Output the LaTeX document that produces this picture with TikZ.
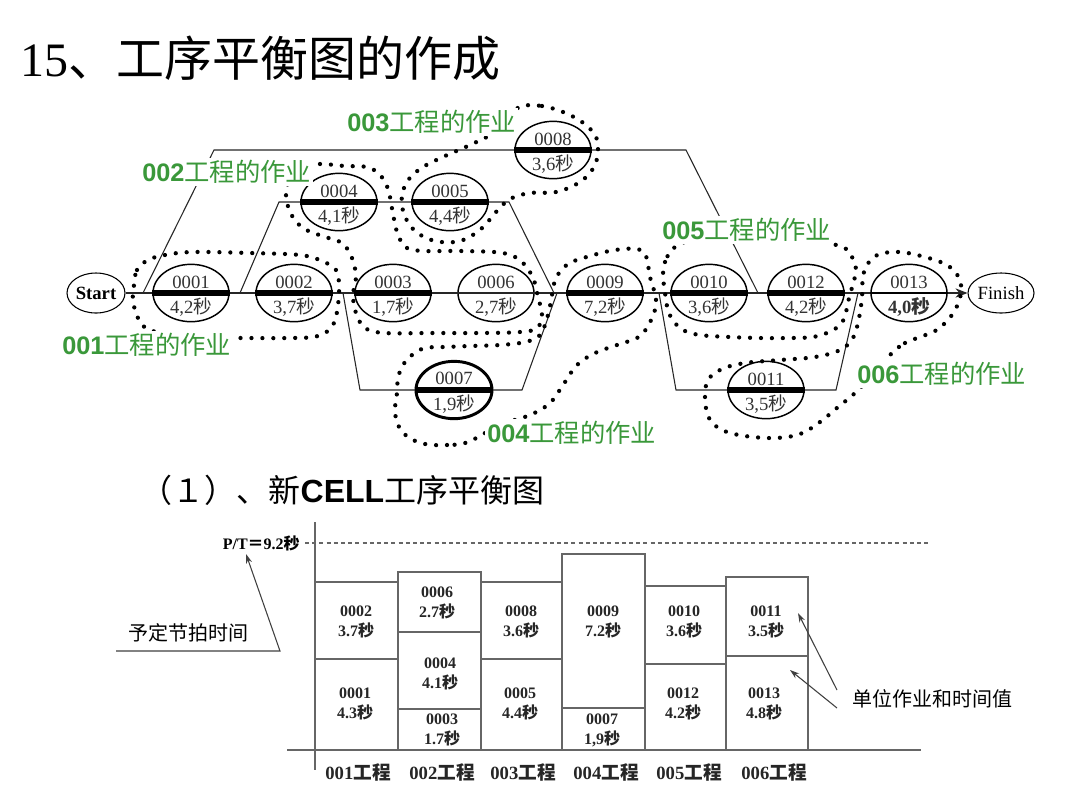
\documentclass[tikz,border=0pt]{standalone}
\usepackage{fontspec}
\setmainfont{Liberation Serif}
\setsansfont{Liberation Sans}
\newfontfamily\cjk{Noto Sans CJK SC}
\usepackage{tikz}
\usetikzlibrary{arrows.meta,shapes.geometric}
\definecolor{labelgreen}{RGB}{58,152,58}
\newcommand\miao{{\cjk 秒}}
\newcommand\fsz[1]{\fontsize{#1}{#1}\selectfont}

\begin{document}
\begin{tikzpicture}[
  x=0.75pt, y=-0.75pt,
  flow/.style={draw=black!85, line width=0.8pt},
  tasktxt/.style={inner sep=0pt, font=\fsz{14}, text=black!80},
  task/.style 2 args={ellipse, draw, line width=1.1pt, minimum width=57pt, minimum height=43pt, inner sep=0pt,
    label={[tasktxt, label distance=-19pt]90:#1},
    label={[tasktxt, label distance=-19pt]270:{#2}}},
  term/.style={ellipse, draw, line width=0.8pt, minimum width=43.5pt, minimum height=30pt, inner sep=0pt, font=\fsz{14}},
  bar/.style={line width=3.8pt},
  dotline/.style={line width=3.2pt, line cap=round, dash pattern=on 0pt off 8.2pt},
  grp/.style={fill=white, inner sep=1.5pt, anchor=west, text=labelgreen, font=\fsz{19}},
  axis/.style={draw=black!60, line width=0.9pt},
  cellbox/.style={draw=black!60, line width=0.9pt},
  cell/.style={align=center, inner sep=0pt, font=\fontsize{12}{15}\selectfont\bfseries, text=black!85},
  xlab/.style={inner sep=0pt, font=\fsz{14}\bfseries, text=black!85},
  ptr/.style={draw=black!75, line width=0.8pt, -{Stealth[length=7pt, width=4.5pt]}}
]
\fill[white] (0,0) rectangle (1080,808);
\useasboundingbox (0,0) rectangle (1080,808);

% titles
\node[anchor=west, font=\fsz{36}] (title) at (16,58) {15{\cjk 、工序平衡图的作成}};
\node[anchor=west, font=\fsz{24}] (subtitle) at (136,490) {{\cjk （１）、新}{\sffamily\bfseries CELL}{\cjk 工序平衡图}};

% network
\node[term, font=\fsz{14}\bfseries] (start) at (96,293) {Start};
\node[term] (finish) at (1001,293) {Finish};

\node[task={0001}{4,2\miao}] (t0001) at (191,293) {};
\node[task={0002}{3,7\miao}] (t0002) at (294,293) {};
\node[task={0003}{1,7\miao}] (t0003) at (393,293) {};
\node[task={0006}{2,7\miao}] (t0006) at (496,293) {};
\node[task={0009}{7,2\miao}] (t0009) at (605,293) {};
\node[task={0010}{3,6\miao}] (t0010) at (709,293) {};
\node[task={0012}{4,2\miao}] (t0012) at (806,293) {};
\node[task={0013}{\bfseries 4,0\miao}] (t0013) at (909,293) {};
\node[task={0004}{4,1\miao}] (t0004) at (339,202) {};
\node[task={0005}{4,4\miao}] (t0005) at (450,202) {};
\node[task={0008}{3,6\miao}] (t0008) at (553,150) {};
\node[task={0007}{1,9\miao}, line width=2.2pt] (t0007) at (454,390) {};
\node[task={0011}{3,5\miao}] (t0011) at (766,390) {};

\coordinate (a1) at (143,293); \coordinate (a2) at (214,150);
\coordinate (a3) at (686,150); \coordinate (a4) at (758,293);
\coordinate (b1) at (240,293); \coordinate (b2) at (279,202);
\coordinate (b3) at (509,202); \coordinate (b4) at (554,293);
\coordinate (c1) at (343,293); \coordinate (c2) at (360,390);
\coordinate (c3) at (522,390); \coordinate (c4) at (557,293);
\coordinate (d1) at (659,293); \coordinate (d2) at (676,390);
\coordinate (d3) at (836,390); \coordinate (d4) at (858,293);

\draw[flow, -{Stealth[length=9pt, width=7pt]}] (start) -- (finish);
\draw[flow] (a1) -- (a2) -- (a3) -- (a4);
\draw[flow] (b1) -- (b2) -- (b3) -- (b4);
\draw[flow] (c1) -- (c2) -- (c3) -- (c4);
\draw[flow] (d1) -- (d2) -- (d3) -- (d4);

\foreach \t in {0001,0002,0003,0004,0005,0007,0008,0009,0010,0011,0012}
  \draw[bar] (t\t.west) -- (t\t.east);
\draw[line width=1.4pt] (t0013.west) -- (t0013.east);

% dotted groups
\draw[dotline] plot[smooth cycle, tension=0.6] coordinates {(134,285) (137,270) (148,260) (165,255) (193,252) (250,253) (300,255) (322,261) (336,270) (339,285) (338,305) (333,325) (318,336) (290,338) (240,338) (190,338) (150,330) (138,318) (133,300)};
\draw[dotline] plot[smooth cycle, tension=0.6] coordinates {(300,167) (320,164) (345,166) (367,167) (379,174) (386,184) (390,197) (393,214) (398,235) (407,248) (425,251) (460,251) (503,253) (522,262) (533,278) (538,297) (542,315) (537,328) (520,332) (480,333) (430,333) (385,333) (365,328) (356,313) (353,295) (356,277) (352,258) (342,243) (322,236) (303,228) (291,214) (286,195) (290,178)};
\draw[dotline] plot[smooth cycle, tension=0.6] coordinates {(522,106) (542,106) (563,112) (582,122) (595,135) (598,150) (594,167) (580,182) (556,192) (530,193) (510,199) (496,212) (481,229) (460,241) (435,241) (415,231) (404,214) (402,195) (409,179) (423,167) (445,156) (470,145) (495,132) (510,115)};
\draw[dotline] plot[smooth cycle, tension=0.6] coordinates {(468,442) (447,445) (425,444) (408,437) (398,425) (395,410) (397,393) (398,378) (403,365) (412,355) (425,348) (445,347) (470,346) (500,345) (525,342) (540,335) (548,315) (552,295) (556,278) (568,264) (590,256) (615,250) (637,249) (646,256) (650,277) (656,300) (652,318) (640,336) (617,345) (595,353) (577,365) (563,385) (550,403) (530,415) (500,425)};
\draw[dotline] plot[smooth cycle, tension=0.6] coordinates {(672,250) (665,262) (663,276) (665,292) (667,306) (672,319) (683,330) (700,335) (730,337) (760,338) (790,338) (813,337) (829,332) (841,324) (846,312) (849,298) (853,284) (856,270) (852,257) (842,247) (800,238) (720,238) (685,242)};
\draw[dotline] plot[smooth cycle, tension=0.6] coordinates {(892,353) (905,343) (920,337) (935,331) (947,321) (955,310) (960,298) (961,285) (956,273) (945,264) (925,257) (900,252) (880,254) (869,262) (863,276) (862,297) (859,318) (853,338) (840,350) (815,357) (780,360) (745,363) (722,369) (708,380) (705,398) (709,418) (722,430) (745,436) (775,438) (800,434) (820,422) (838,407) (855,393) (875,372)};

% group labels
\node[grp] (g001) at (60,345) {{\sffamily\bfseries 001}{\cjk 工程的作业}};
\node[grp] (g002) at (140,172) {{\sffamily\bfseries 002}{\cjk 工程的作业}};
\node[grp] (g003) at (345,122) {{\sffamily\bfseries 003}{\cjk 工程的作业}};
\node[grp] (g004) at (485,433) {{\sffamily\bfseries 004}{\cjk 工程的作业}};
\node[grp] (g005) at (660,230) {{\sffamily\bfseries 005}{\cjk 工程的作业}};
\node[grp] (g006) at (855,374) {{\sffamily\bfseries 006}{\cjk 工程的作业}};

% balance chart
\draw[axis] (315,522) -- (315,770);
\draw[axis] (287,750) -- (921,750);
\draw[draw=black!60, line width=0.8pt, dash pattern=on 3pt off 2.4pt] (305,543) -- (930,543);

\draw[cellbox] (315,750) rectangle (398,659);
\draw[cellbox] (315,659) rectangle (398,582);
\draw[cellbox] (398,750) rectangle (481,709);
\draw[cellbox] (398,709) rectangle (481,632);
\draw[cellbox] (398,632) rectangle (481,572);
\draw[cellbox] (481,750) rectangle (562,659);
\draw[cellbox] (481,659) rectangle (562,582);
\draw[cellbox] (562,750) rectangle (645,708);
\draw[cellbox] (562,708) rectangle (645,554);
\draw[cellbox] (645,750) rectangle (726,664);
\draw[cellbox] (645,664) rectangle (726,586);
\draw[cellbox] (726,750) rectangle (808,656);
\draw[cellbox] (726,656) rectangle (808,577);

\node[cell] (c0001) at (355,704) {0001\\4.3\miao};
\node[cell] (c0002) at (356,622) {0002\\3.7\miao};
\node[cell] (c0003) at (442,730) {0003\\1.7\miao};
\node[cell] (c0004) at (440,674) {0004\\4.1\miao};
\node[cell] (c0006) at (437,603) {0006\\2.7\miao};
\node[cell] (c0005) at (520,704) {0005\\4.4\miao};
\node[cell] (c0008) at (521,622) {0008\\3.6\miao};
\node[cell] (c0007) at (602,730) {0007\\1,9\miao};
\node[cell] (c0009) at (603,622) {0009\\7.2\miao};
\node[cell] (c0012) at (683,704) {0012\\4.2\miao};
\node[cell] (c0010) at (684,622) {0010\\3.6\miao};
\node[cell] (c0013) at (764,704) {0013\\4.8\miao};
\node[cell] (c0011) at (766,622) {0011\\3.5\miao};

\node[xlab] (x001) at (358,772) {001{\cjk 工程}};
\node[xlab] (x002) at (442,772) {002{\cjk 工程}};
\node[xlab] (x003) at (523,772) {003{\cjk 工程}};
\node[xlab] (x004) at (606,772) {004{\cjk 工程}};
\node[xlab] (x005) at (689,772) {005{\cjk 工程}};
\node[xlab] (x006) at (774,772) {006{\cjk 工程}};

\node[anchor=east, inner sep=0pt, font=\fsz{12}\bfseries] (pt) at (300,543) {P/T{\cjk ＝}9.2\miao};
\node[inner sep=0pt, font=\fsz{15}] (pace) at (188,633) {{\cjk 予定节拍时间}};
\coordinate (u1) at (116,651); \coordinate (u2) at (280,651); \coordinate (ptTip) at (246,554);
\draw[ptr] (u1) -- (u2) -- (ptTip);

\node[inner sep=0pt, font=\fsz{15}] (unit) at (932,699) {{\cjk 单位作业和时间值}};
\coordinate (v1) at (837,690); \coordinate (v2) at (837,708);
\coordinate (w1) at (798,613); \coordinate (w2) at (790,670);
\draw[ptr] (v1) -- (w1);
\draw[ptr] (v2) -- (w2);
\end{tikzpicture}
\end{document}
